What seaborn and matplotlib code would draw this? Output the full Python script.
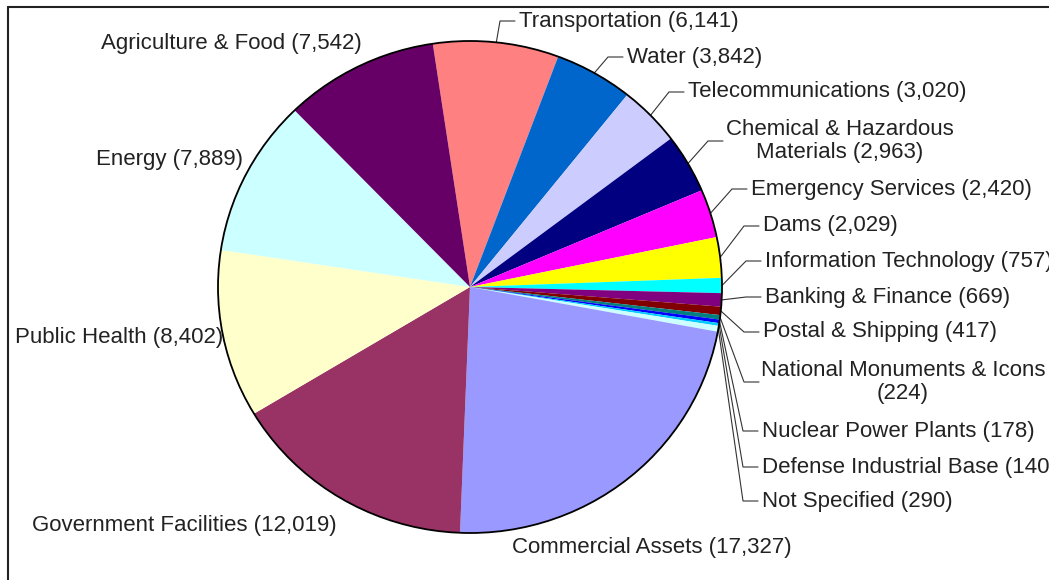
import matplotlib
matplotlib.use("Agg")
import matplotlib.pyplot as plt
import seaborn as sns
import numpy as np
from matplotlib.patches import Circle
from matplotlib.lines import Line2D

sns.set_theme(style="white")
plt.rcParams['font.family'] = ['Liberation Sans', 'DejaVu Sans']

categories = ["Transportation", "Water", "Telecommunications",
              "Chemical & Hazardous\nMaterials", "Emergency Services", "Dams",
              "Information Technology", "Banking & Finance", "Postal & Shipping",
              "National Monuments & Icons\n", "Nuclear Power Plants",
              "Defense Industrial Base", "Not Specified", "Commercial Assets",
              "Government Facilities", "Public Health", "Energy",
              "Agriculture & Food"]
values = [6141, 3842, 3020, 2963, 2420, 2029, 757, 669, 417, 224, 178, 140,
          290, 17327, 12019, 8402, 7889, 7542]
colors = ["#FF8080", "#0066CC", "#CCCCFF", "#000080", "#FF00FF", "#FFFF00",
          "#00FFFF", "#800080", "#800000", "#008080", "#0000FF", "#00CCFF",
          "#CCFFFF", "#9999FF", "#993366", "#FFFFCC", "#CCFFFF", "#660066"]

# layout (pixel positions of label text): x, y, ha, leader?
label_pos = [
    (519, 21, "left", True),
    (627, 57, "left", True),
    (688, 92, "left", True),
    (840, 141, "center", True),
    (751, 189, "left", True),
    (763, 226, "left", True),
    (765, 261, "left", True),
    (765, 297, "left", True),
    (763, 332, "left", True),
    (903, 382, "center", True),
    (762, 431, "left", True),
    (762, 467, "left", True),
    (762, 501, "left", True),
    (512, 548, "left", False),
    (32, 525, "left", False),
    (15, 337, "left", False),
    (96, 160, "left", False),
    (101, 44, "left", False),
]
leader_text_left = {3: 727, 9: 763}

W, H = 1049, 580
CX, CY, RX, RY = 470, 287, 252, 246

def px(x, y):
    return (x - CX) / RX, (CY - y) / RY

fig = plt.figure(figsize=(W / 100, H / 100), dpi=100)
ax = fig.add_axes([0, 0, 1, 1])

wedges, _ = ax.pie(values, colors=colors, startangle=98.5, counterclock=False,
                   radius=1.0, center=(0, 0), frame=True,
                   wedgeprops=dict(linewidth=0, edgecolor='none'))
ax.set_xlim(px(0, 0)[0], px(W, 0)[0])
ax.set_ylim(px(0, H)[1], px(0, 0)[1])
ax.set_aspect('auto')
ax.axis('off')
ax.add_patch(Circle((0, 0), 1.0, fill=False, ec='black', lw=1.3, zorder=5))

for i, (w, cat, v) in enumerate(zip(wedges, categories, values)):
    tx, ty, ha, leader = label_pos[i]
    if cat.endswith("\n"):
        text = f"{cat}({v:,})"
    else:
        text = f"{cat} ({v:,})"
    ax.text(*px(tx, ty), text, ha=ha, va='center', fontsize=16,
            color='#222222', multialignment='center', linespacing=1.15,
            zorder=6)
    if leader:
        ang = np.deg2rad((w.theta1 + w.theta2) / 2)
        sx, sy = np.cos(ang), np.sin(ang)
        left = leader_text_left.get(i, tx)
        ex, ey = px(left - 4, ty)
        bx, by = px(left - 19, ty)
        ax.plot([sx, bx, ex], [sy, by, ey], color='#333333', lw=0.8,
                zorder=4, solid_joinstyle='miter')

# frame lines (left and top)
fig.add_artist(Line2D([8 / W, 8 / W], [0, 1 - 7 / H], transform=fig.transFigure,
                      color='#222222', lw=1.5))
fig.add_artist(Line2D([8 / W, 1], [1 - 7 / H, 1 - 7 / H], transform=fig.transFigure,
                      color='#222222', lw=1.5))

fig.savefig("out.png", dpi=100, facecolor='white')
